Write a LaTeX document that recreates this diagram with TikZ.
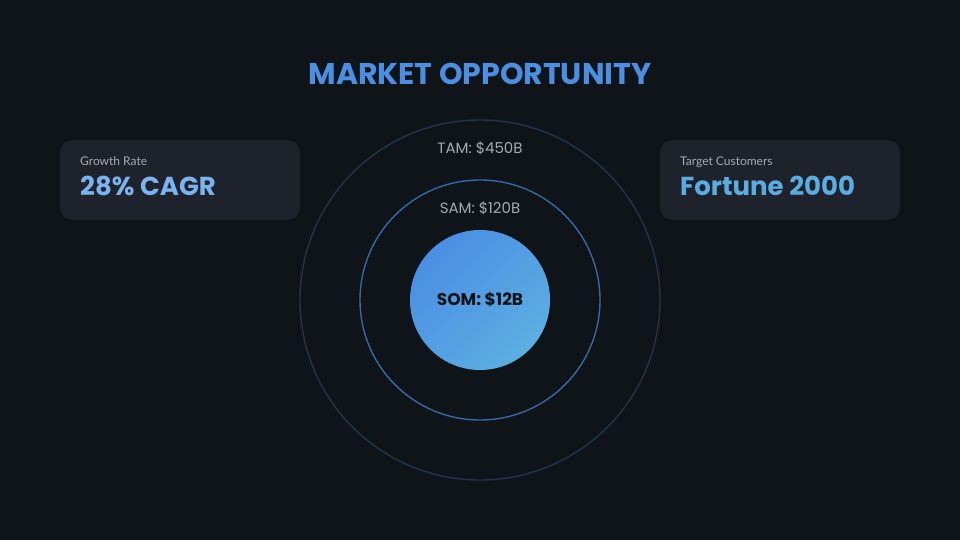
\documentclass[tikz,border=0pt]{standalone}
\usepackage{fontspec}
\setmainfont{Lato}
\newfontfamily\headfont{Poppins}
\usetikzlibrary{shadings}
\definecolor{bgdark}{HTML}{0F1419}
\definecolor{cardbg}{HTML}{1E232B}
\definecolor{titleblue}{HTML}{4A8FE2}
\definecolor{tamring}{HTML}{1F3550}
\definecolor{samring}{HTML}{3468A6}
\definecolor{somtop}{HTML}{4A8FE3}
\definecolor{sombot}{HTML}{5CAEE2}
\definecolor{labelgrey}{HTML}{A3AAB2}
\definecolor{cagrblue}{HTML}{7AB3EF}
\definecolor{fortblue}{HTML}{5AADE2}
\tikzset{
  card/.style={fill=cardbg, rounded corners=12pt, minimum width=240pt, minimum height=80pt, inner sep=0pt},
  ring/.style={circle, draw, line width=1.4pt, inner sep=0pt},
  cardlabel/.style={anchor=base west, inner sep=0pt, text=labelgrey, font=\fontsize{12}{14}\selectfont},
  cardvalue/.style={anchor=base west, inner sep=0pt, font=\headfont\bfseries\fontsize{26}{30}\selectfont},
  ringlabel/.style={text=labelgrey, font=\headfont\fontsize{15}{18}\selectfont}
}
\begin{document}
\begin{tikzpicture}[x=1pt, y=-1pt]
    % background
    \fill [bgdark] (0, 0) rectangle (960, 540);
    \useasboundingbox (0, 0) rectangle (960, 540);
    % title
    \node (title) at (480, 74) [text=titleblue, font=\headfont\bfseries\fontsize{30}{36}\selectfont] {MARKET OPPORTUNITY};
    % rings
    \node (tam) at (480, 300) [ring, draw=tamring, minimum size=360pt] {};
    \node (sam) at (480, 300) [ring, draw=samring, minimum size=240pt] {};
    \shade [left color=somtop, right color=sombot, shading angle=45] (480, 300) circle (70);
    \node (som) at (480, 300) [circle, minimum size=140pt, text=bgdark, font=\headfont\bfseries\fontsize{17}{20}\selectfont] {SOM: \$12B};
    % ring labels
    \node (tamlabel) at (480, 148) [ringlabel] {TAM: \$450B};
    \node (samlabel) at (480, 208) [ringlabel] {SAM: \$120B};
    % left card
    \node (growth) at (180, 180) [card] {};
    \node (growthlabel) at (80, 166) [cardlabel] {Growth Rate};
    \node (growthvalue) at (80, 196) [cardvalue, text=cagrblue] {28\% CAGR};
    % right card
    \node (target) at (780, 180) [card] {};
    \node (targetlabel) at (680, 166) [cardlabel] {Target Customers};
    \node (targetvalue) at (680, 196) [cardvalue, text=fortblue] {Fortune 2000};
\end{tikzpicture}
\end{document}
